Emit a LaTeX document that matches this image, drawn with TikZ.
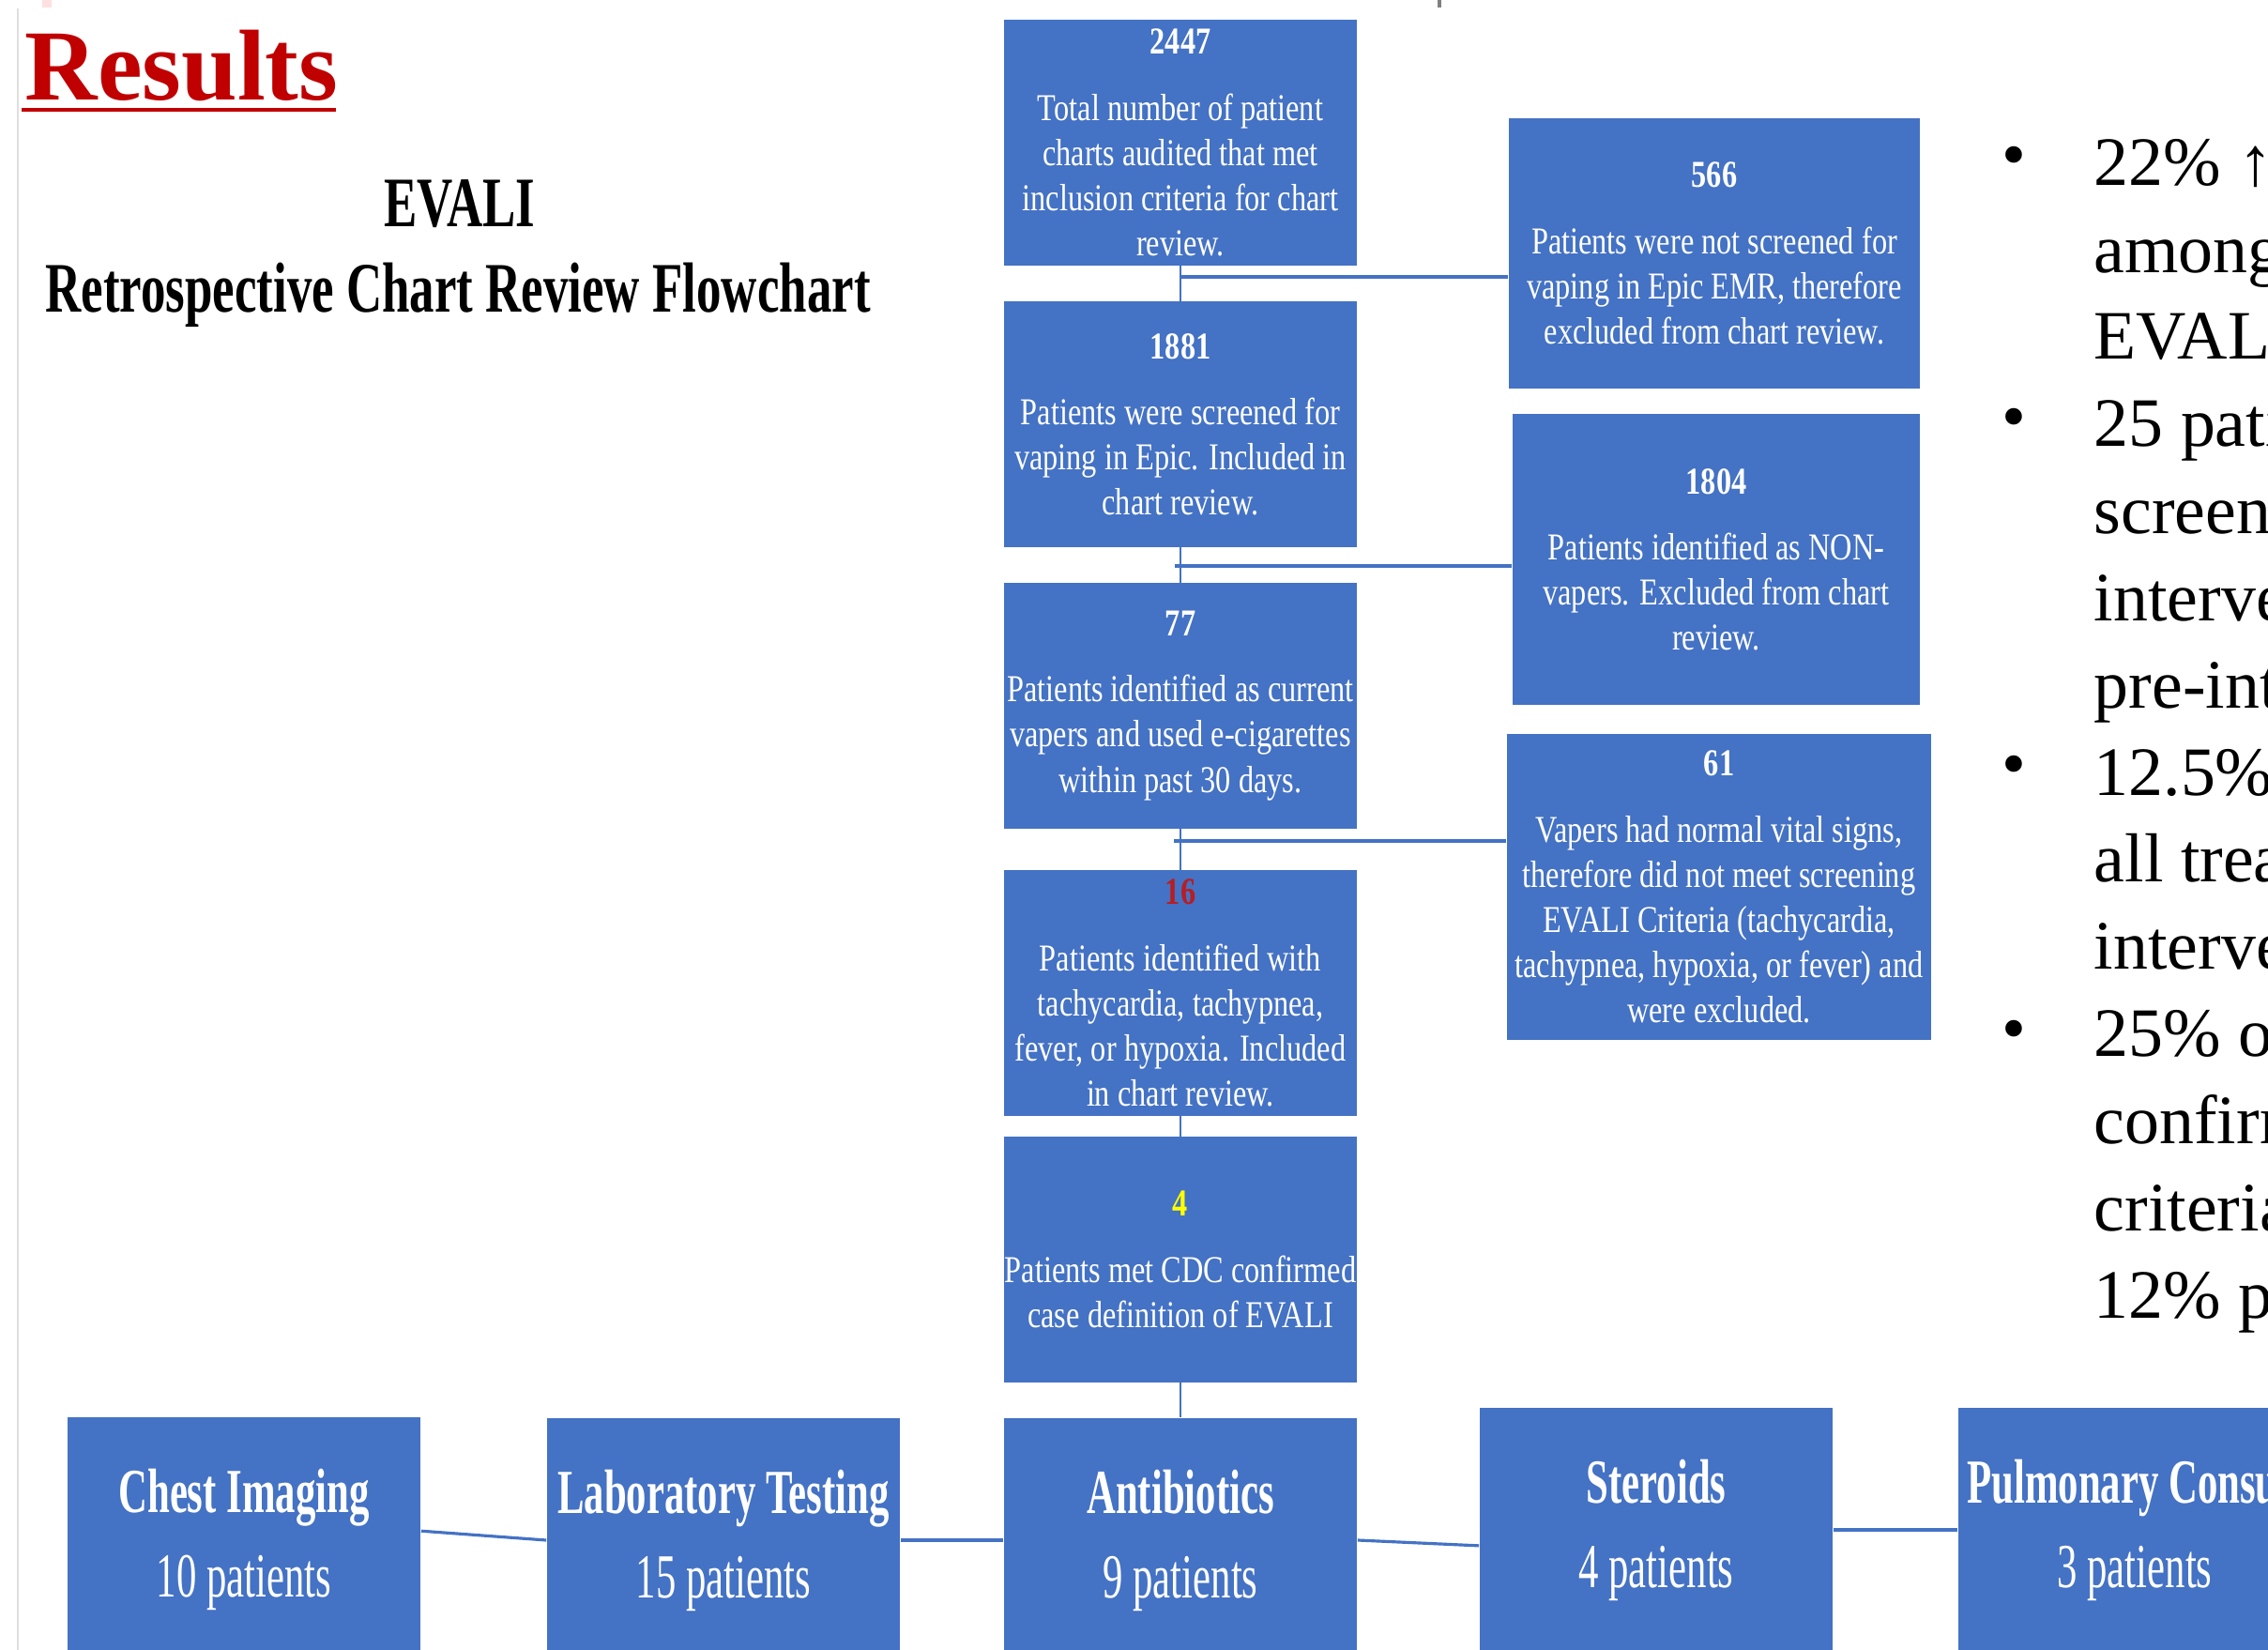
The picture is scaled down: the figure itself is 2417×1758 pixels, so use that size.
\documentclass[tikz,border=0pt]{standalone}
\usepackage{fontspec}
\setmainfont{Liberation Serif}
\newfontfamily\boxfont[FakeStretch=0.8]{Liberation Serif}
\newfontfamily\treatfont[FakeStretch=0.64]{Liberation Serif}
\newfontfamily\headfont[FakeStretch=0.7]{Liberation Serif}
\definecolor{boxblue}{HTML}{4472C4}
\definecolor{resred}{HTML}{C00000}
\definecolor{numred}{HTML}{B81D22}
\definecolor{numyellow}{HTML}{FFFF00}

\begin{document}
\begin{tikzpicture}[x=0.01cm,y=-0.01cm,
  every node/.style={inner sep=0pt},
  flowbox/.style={fill=boxblue,text=white,align=center,minimum width=3.76cm,minimum height=2.61cm,
    font=\boxfont\fontsize{11.5}{13.66}\selectfont},
  treatbox/.style={fill=boxblue,text=white,align=center,minimum width=3.76cm,minimum height=2.6cm,
    font=\treatfont\fontsize{19}{25.6}\selectfont},
  link/.style={draw=boxblue,line width=0.9pt},
  stem/.style={draw=boxblue,line width=0.6pt}]
  \useasboundingbox (0,0) rectangle (2417,1758);
  \clip (0,0) rectangle (2417,1758);
  % page edge marks
  \draw[gray!25,line width=0.5pt] (19,9) -- (19,1758);
  \fill[red!12] (45,0) rectangle (55,8);
  \draw[gray,line width=1pt] (1534,0) -- (1534,8);
  % heading
  \node[anchor=base west,text=resred,font=\bfseries\fontsize{30.5}{34}\selectfont] (res) at (26,107) {Results};
  \draw[resred,line width=0.9pt] (23,117) -- (358,117);
  \node[anchor=base,font=\headfont\bfseries\fontsize{21.5}{26}\selectfont] (evali) at (490,242) {EVALI};
  \node[anchor=base,font=\headfont\bfseries\fontsize{21.5}{26}\selectfont] (subtitle) at (488,333)
    {Retrospective Chart Review Flowchart};
  % main column
  \node[flowbox] (total) at (1258,152) {{\bfseries 2447}\\[6.3pt]Total number of patient\\charts audited that met\\inclusion criteria for chart\\review.};
  \node[flowbox] (screened) at (1258,452) {{\bfseries 1881}\\[6.3pt]Patients were screened for\\vaping in Epic. Included in\\chart review.};
  \node[flowbox] (current) at (1258,752) {{\bfseries 77}\\[6.3pt]Patients identified as current\\vapers and used e-cigarettes\\within past 30 days.};
  \node[flowbox] (vitals) at (1258,1058) {{\bfseries\color{numred}16}\\[6.3pt]Patients identified with\\tachycardia, tachypnea,\\fever, or hypoxia. Included\\in chart review.};
  \node[flowbox] (cdc) at (1258,1342) {{\bfseries\color{numyellow}4}\\[6.3pt]Patients met CDC confirmed\\case definition of EVALI};
  % excluded
  \node[flowbox,minimum width=4.38cm,minimum height=2.87cm] (notscr) at (1827,270) {{\bfseries 566}\\[6.3pt]Patients were not screened for\\vaping in Epic EMR, therefore\\excluded from chart review.};
  \node[flowbox,minimum width=4.34cm,minimum height=3.1cm] (nonvap) at (1829,596) {{\bfseries 1804}\\[6.3pt]Patients identified as NON-\\vapers. Excluded from chart\\review.};
  \node[flowbox,minimum width=4.52cm,minimum height=3.26cm] (normal) at (1832,945) {{\bfseries 61}\\[6.3pt]Vapers had normal vital signs,\\therefore did not meet screening\\EVALI Criteria (tachycardia,\\tachypnea, hypoxia, or fever) and\\were excluded.};
  % treatments
  \node[treatbox] (chest) at (260,1640) {{\bfseries Chest Imaging}\\10 patients};
  \node[treatbox] (lab) at (771,1641) {{\bfseries Laboratory Testing}\\15 patients};
  \node[treatbox] (antib) at (1258,1641) {{\bfseries Antibiotics}\\9 patients};
  \node[treatbox] (steroid) at (1765,1630) {{\bfseries Steroids}\\4 patients};
  \node[treatbox] (pulm) at (2275,1630) {{\bfseries Pulmonary Consult}\\3 patients};
  % connectors
  \draw[stem] (total) -- (screened);
  \draw[stem] (screened) -- (current);
  \draw[stem] (current) -- (vitals);
  \draw[stem] (vitals) -- (cdc);
  \draw[stem] (cdc) -- (antib);
  \coordinate (j1) at (1258,295);
  \coordinate (j2) at (1252,603);
  \coordinate (j3) at (1251,896);
  \draw[link] (j1) -- (j1 -| notscr.west);
  \draw[link] (j2) -- (j2 -| nonvap.west);
  \draw[link] (j3) -- (j3 -| normal.west);
  \draw[link] ([yshift=2.5pt]chest.east) -- (lab.west);
  \draw[link] (lab) -- (antib);
  \draw[link] (antib.east) -- ([yshift=-4.8pt]steroid.west);
  \draw[link] (steroid) -- (pulm);
  % notes
  \foreach \y/\n in {173/dot1,452/dot2,822/dot3,1104/dot4}
    \node[font=\fontsize{21}{26}\selectfont] (\n) at (2146,\y) {•};
  \node[anchor=west,align=left,font=\fontsize{21}{26.4}\selectfont] (notes) at (2231,784)
    {22\% ↑ in\\among\\EVALI\\25 patients\\screened\\intervention\\pre-intervention\\12.5\% of\\all treatment\\intervention\\25\% of\\confirmed\\criteria\\12\% patients};
\end{tikzpicture}
\end{document}
